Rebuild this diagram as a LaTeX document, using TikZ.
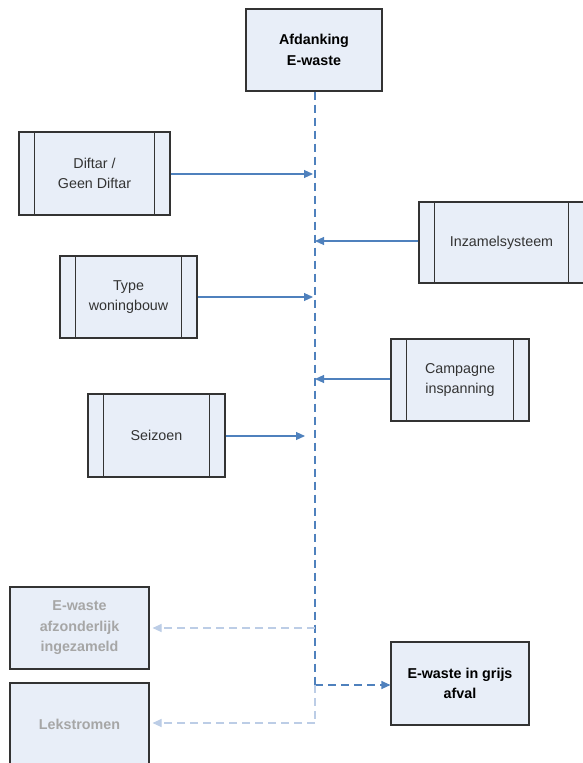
\documentclass[tikz,border=0pt]{standalone}
\usepackage{fontspec}
\setmainfont{Liberation Sans}
\usetikzlibrary{arrows.meta}
\definecolor{boxfill}{HTML}{E8EEF8}
\definecolor{boxline}{HTML}{333333}
\definecolor{txt}{HTML}{333333}
\definecolor{flow}{HTML}{4F81BD}
\definecolor{paleflow}{HTML}{BCCDE6}
\definecolor{paletxt}{HTML}{A6A6A6}
\tikzset{
  boxbase/.style={draw=boxline, line width=1.1pt, fill=boxfill, align=center, inner sep=2pt,
    font=\fontsize{14.3}{20.5}\selectfont},
  procbox/.style={boxbase, text=txt},
  endbox/.style={boxbase, text=black, font=\fontsize{14.3}{20.5}\selectfont\bfseries},
  palebox/.style={boxbase, text=paletxt, font=\fontsize{14.3}{20.5}\selectfont\bfseries},
  flowline/.style={draw=flow, line width=1.1pt},
  flowarrow/.style={flowline, -{Triangle[length=9pt,width=8pt]}},
  dashflow/.style={flowline, dash pattern=on 8pt off 5pt},
  palearrow/.style={draw=paleflow, line width=1.1pt, dash pattern=on 8pt off 5pt, -{Triangle[length=9pt,width=8pt]}},
}
\begin{document}
\begin{tikzpicture}[x=1pt,y=-1pt]
\useasboundingbox (0,0) rectangle (583,763);
% nodes
\node[endbox, minimum width=136pt, minimum height=82pt] (top) at (314,50) {Afdanking\\E-waste};
\node[procbox, minimum width=151pt, minimum height=83pt] (diftar) at (94.5,173.5) {Diftar /\\Geen Diftar};
\node[procbox, minimum width=165pt, minimum height=81pt] (inzamel) at (501.5,242.5) {Inzamelsysteem};
\node[procbox, minimum width=137pt, minimum height=82pt] (type) at (128.5,297) {Type\\woningbouw};
\node[procbox, minimum width=138pt, minimum height=82pt] (campagne) at (460,380) {Campagne\\inspanning};
\node[procbox, minimum width=137pt, minimum height=83pt] (seizoen) at (156.5,435.5) {Seizoen};
\node[palebox, minimum width=139pt, minimum height=82pt] (afz) at (79.5,628) {E-waste\\afzonderlijk\\ingezameld};
\node[palebox, minimum width=139pt, minimum height=82pt] (lek) at (79.5,724) {Lekstromen};
\node[endbox, minimum width=138pt, minimum height=83pt] (grijs) at (460,683.5) {E-waste in grijs\\afval};
% inner vertical lines of process boxes
\foreach \n in {diftar,inzamel,type,campagne,seizoen}{
  \draw[boxline, line width=1.1pt] ([xshift=16pt]\n.north west) -- ([xshift=16pt]\n.south west);
  \draw[boxline, line width=1.1pt] ([xshift=-16pt]\n.north east) -- ([xshift=-16pt]\n.south east);
}
% spine coordinates
\coordinate (sD) at (313,174);
\coordinate (sI) at (315,241);
\coordinate (sT) at (313,297);
\coordinate (sC) at (315,379);
\coordinate (sS) at (305,436);
\coordinate (jA) at (315,628);
\coordinate (jG) at (315,685);
\coordinate (jL) at (315,723);
% spine
\draw[dashflow] (top.south -| jG) -- (jG);
\draw[flowarrow, dash pattern=on 8pt off 5pt] (jG) -- (jG -| grijs.west);
% inputs
\draw[flowarrow] (diftar.east |- sD) -- (sD);
\draw[flowarrow] (inzamel.west |- sI) -- (sI);
\draw[flowarrow] (type.east |- sT) -- (sT);
\draw[flowarrow] (campagne.west |- sC) -- (sC);
\draw[flowarrow] (seizoen.east |- sS) -- (sS);
% pale outputs
\draw[palearrow] (jA) -- ([xshift=3pt]jA -| afz.east);
\draw[draw=paleflow, line width=1.1pt, dash pattern=on 8pt off 5pt] (jG) -- (jL);
\draw[palearrow] (jL) -- ([xshift=3pt]jL -| lek.east);
\end{tikzpicture}
\end{document}
